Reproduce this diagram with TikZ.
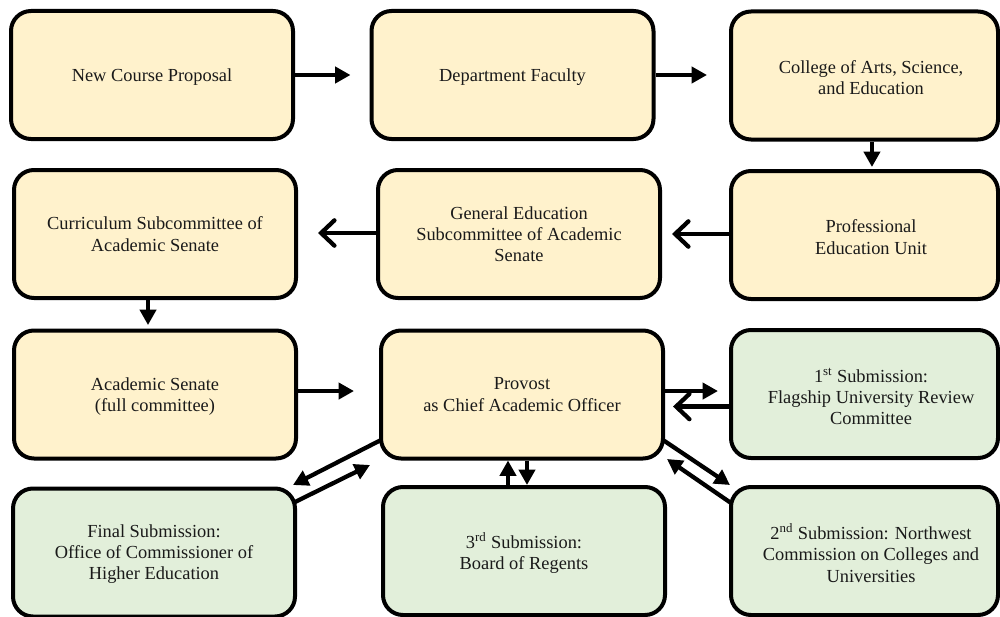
\documentclass[tikz,border=0pt]{standalone}
\usepackage{fontspec}
\setmainfont{Liberation Serif}
\usetikzlibrary{arrows.meta,calc}
\definecolor{yfill}{HTML}{FFF2CC}
\definecolor{gfill}{HTML}{E2EFDA}
\definecolor{ink}{HTML}{1A1A1A}
\begin{document}
\begin{tikzpicture}[x=0.75pt,y=-0.75pt,
  txt/.style={align=center, text=ink, font=\fontsize{13.8}{15.8}\selectfont, inner sep=0pt, text depth=0pt},
  box/.style={draw=black, line width=3pt, rounded corners=15pt, minimum width=211.5pt, minimum height=96pt, inner sep=0pt, txt},
  ybox/.style={box, fill=yfill},
  gbox/.style={box, fill=gfill},
  narrow/.style={minimum width=200.25pt},
  side/.style={txt, xshift=4.9pt, yshift=-1.5pt},
  arr/.style={line width=3.2pt, -{Triangle[length=11.5pt,width=12pt]}},
  oarr/.style={line width=3.2pt, -{Straight Barb[length=10pt,width=19pt,line cap=round]}},
]
\useasboundingbox (0,0) rectangle (1000,617);
% row 1
\node[ybox] (b1) at (152,75) {New Course Proposal};
\node[ybox] (b2) at (512.5,75) {Department Faculty};
\node[ybox, narrow, label={[side]center:{College of Arts, Science,\\and Education}}] (b3) at (864.5,75.5) {};
% row 2
\node[ybox] (curr) at (155,234) {Curriculum Subcommittee of\\Academic Senate};
\node[ybox] (gened) at (519,234) {General Education\\Subcommittee of Academic\\Senate};
\node[ybox, narrow, label={[side]center:{Professional\\Education Unit}}] (prof) at (864.5,235) {};
% row 3
\node[ybox] (as) at (155,394.5) {Academic Senate\\(full committee)};
\node[ybox] (prov) at (522,394.5) {Provost\\as Chief Academic Officer};
\node[gbox, narrow, label={[side]center:{1\textsuperscript{st} Submission:\\Flagship University Review\\Committee}}] (flag) at (864.5,394) {};
% row 4
\node[gbox] (final) at (154,552.5) {Final Submission:\\Office of Commissioner of\\Higher Education};
\node[gbox] (board) at (524,551) {3\textsuperscript{rd} Submission:\\Board of Regents};
\node[gbox, narrow, label={[side]center:{2\textsuperscript{nd} Submission: Northwest\\Commission on Colleges and\\Universities}}] (second) at (864.5,551) {};

% connectors
\draw[arr, shorten >=14.25pt] (b1.east) -- (b1.east -| b2.west);
\draw[arr, shorten >=16.5pt] (b2.east) -- (b2.east -| b3.west);
\draw[arr, shorten >=1.5pt] ([xshift=5.6pt]b3.south) -- ([xshift=5.6pt]b3.south |- prof.north);
\draw[oarr, shorten >=7.5pt] ([yshift=0.75pt]prof.west) -- ([yshift=0.75pt]prof.west -| gened.east);
\draw[oarr, shorten >=15pt] ([yshift=0.75pt]gened.west) -- ([yshift=0.75pt]gened.west -| curr.east);
\draw[arr, shorten >=2.6pt] ([xshift=-5.25pt]curr.south) -- ([xshift=-5.25pt]curr.south |- as.north);
\draw[arr, shorten >=18.75pt] ([yshift=2.6pt]as.east) -- ([yshift=2.6pt]as.east -| prov.west);
\draw[arr, shorten >=8.25pt] ([yshift=2.6pt]prov.east) -- ([yshift=2.6pt]prov.east -| flag.west);
\draw[oarr, shorten >=6pt] ([yshift=-9.4pt]flag.west) -- ([yshift=-9.4pt]flag.west -| prov.east);
\draw[arr] ([xshift=-12pt]board.north) -- ([xshift=-12pt]board.north |- prov.south);
\draw[arr] ([xshift=2.25pt]board.north |- prov.south) -- ([xshift=2.25pt]board.north);
% diagonals
\draw[arr] ($(prov.south west)+(2,-20.5)$) -- ($(final.north east)+(-4,-1.5)$);
\draw[arr] ($(final.north east)+(-2,15.5)$) -- ($(prov.south west)+(-9,4.5)$);
\draw[arr] ($(prov.south east)+(-2,-20.5)$) -- ($(second.north west)+(1,0)$);
\draw[arr] ($(second.north west)+(2,18)$) -- ($(prov.south east)+(2,-1.5)$);
\end{tikzpicture}
\end{document}
